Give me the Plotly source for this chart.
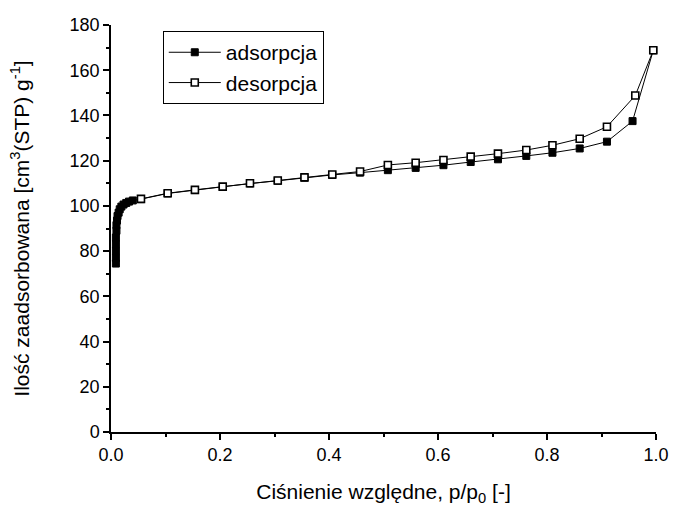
import plotly.graph_objects as go

# Adsorption branch
ads_x = [0.009, 0.009, 0.009, 0.009, 0.009, 0.010, 0.010, 0.011, 0.012, 0.014,
         0.016, 0.019, 0.023, 0.028, 0.033, 0.040, 0.055, 0.104, 0.154, 0.205,
         0.255, 0.306, 0.355, 0.406, 0.457, 0.508, 0.559, 0.610, 0.660, 0.710,
         0.762, 0.810, 0.860, 0.910, 0.957, 0.995]
ads_y = [74.5, 77.0, 80.0, 83.0, 86.0, 89.0, 91.5, 93.5, 95.5, 97.0,
         98.5, 99.7, 100.6, 101.3, 101.9, 102.4, 103.0, 105.5, 107.0, 108.4,
         109.9, 111.1, 112.5, 113.7, 114.7, 115.8, 116.8, 118.0, 119.4, 120.6,
         122.1, 123.5, 125.4, 128.4, 137.5, 168.8]

# Desorption branch
des_x = [0.995, 0.962, 0.910, 0.860, 0.810, 0.762, 0.710, 0.660, 0.610, 0.559,
         0.508, 0.457, 0.406, 0.355, 0.306, 0.255, 0.205, 0.154, 0.104, 0.055]
des_y = [168.8, 148.8, 135.0, 129.7, 126.8, 124.7, 123.1, 121.8, 120.3, 119.1,
         118.1, 115.2, 113.9, 112.6, 111.2, 110.0, 108.5, 107.1, 105.6, 103.1]

x_ticks = [0.0, 0.2, 0.4, 0.6, 0.8, 1.0]
x_tick_labels = ["0.0", "0.2", "0.4", "0.6", "0.8", "1.0"]
y_ticks = [0, 20, 40, 60, 80, 100, 120, 140, 160, 180]

FONT = "Liberation Sans, Arial, sans-serif"

fig = go.Figure()
fig.add_trace(go.Scatter(
    x=ads_x, y=ads_y, mode="lines+markers", name="adsorpcja",
    line=dict(color="black", width=1),
    marker=dict(symbol="square", size=7, color="black",
                line=dict(color="black", width=1)),
    cliponaxis=False,
))
fig.add_trace(go.Scatter(
    x=des_x, y=des_y, mode="lines+markers", name="desorpcja",
    line=dict(color="black", width=1),
    marker=dict(symbol="square", size=7, color="white",
                line=dict(color="black", width=1.6)),
    cliponaxis=False,
))

fig.update_layout(
    width=681, height=512,
    margin=dict(l=111, r=21, t=25, b=78),
    paper_bgcolor="white", plot_bgcolor="white",
    font=dict(family=FONT, size=18, color="black"),
    showlegend=True,
    legend=dict(
        x=0.095, y=0.985, xanchor="left", yanchor="top",
        bordercolor="black", borderwidth=1, bgcolor="white",
        font=dict(family=FONT, size=21, color="black"),
        itemwidth=52, tracegroupgap=0,
    ),
    xaxis=dict(
        range=[0, 1], tickvals=x_ticks, ticktext=x_tick_labels,
        showline=True, linecolor="black", linewidth=1.5,
        ticks="outside", ticklen=6, tickwidth=1.5, tickcolor="black",
        minor=dict(dtick=0.1, ticks="outside", ticklen=3, tickwidth=1.5, tickcolor="black"),
        showgrid=False, zeroline=False, mirror=False,
        tickfont=dict(family=FONT, size=18, color="black"),
        title=dict(text="Ciśnienie względne, p/p<sub>0</sub> [-]",
                   font=dict(family=FONT, size=21, color="black"), standoff=20),
    ),
    yaxis=dict(
        range=[0, 180], tickvals=y_ticks,
        showline=True, linecolor="black", linewidth=1.5,
        ticks="outside", ticklen=6, tickwidth=1.5, tickcolor="black",
        minor=dict(dtick=10, ticks="outside", ticklen=3, tickwidth=1.5, tickcolor="black"),
        showgrid=False, zeroline=False, mirror=False,
        tickfont=dict(family=FONT, size=18, color="black"),
        title=dict(text="Ilość zaadsorbowana [cm<sup>3</sup>(STP) g<sup>-1</sup>]",
                   font=dict(family=FONT, size=21, color="black"), standoff=34),
    ),
)

fig.write_html("out.html")
